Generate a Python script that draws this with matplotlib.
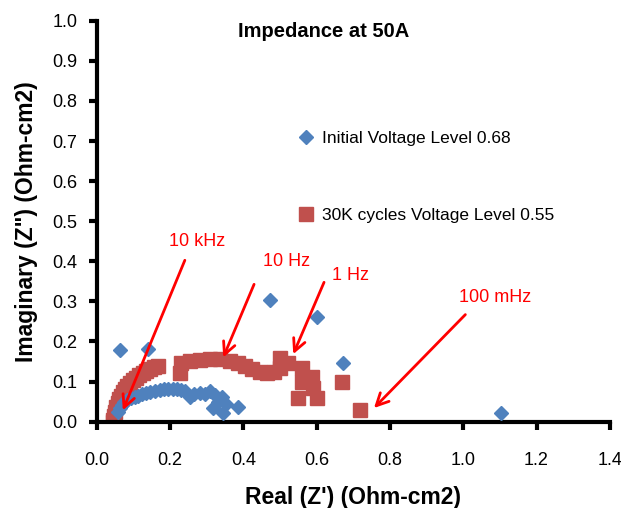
import matplotlib
matplotlib.use("Agg")
import matplotlib.pyplot as plt
from matplotlib.lines import Line2D

# Data
init_x = [0.057, 0.062, 0.068, 0.075, 0.082, 0.092, 0.104, 0.113, 0.123, 0.134, 0.145, 0.158, 0.172, 0.183,
          0.194, 0.207, 0.219, 0.230, 0.240, 0.254, 0.265, 0.281, 0.295, 0.309, 0.322, 0.317, 0.330, 0.342,
          0.352, 0.344, 0.385,
          0.063, 0.139, 0.473, 0.601, 0.672, 1.104]
init_y = [0.024, 0.034, 0.042, 0.049, 0.054, 0.058, 0.062, 0.065, 0.068, 0.071, 0.074, 0.077, 0.080, 0.081,
          0.082, 0.082, 0.081, 0.079, 0.077, 0.062, 0.068, 0.072, 0.070, 0.077, 0.067, 0.034, 0.049, 0.062,
          0.044, 0.022, 0.037,
          0.179, 0.182, 0.304, 0.262, 0.147, 0.022]

aged_x = [0.044, 0.045, 0.046, 0.049, 0.052, 0.057, 0.061, 0.066, 0.071, 0.077, 0.083, 0.090, 0.098, 0.107,
          0.116, 0.126, 0.135, 0.145, 0.156, 0.167,
          0.227, 0.230, 0.254, 0.281, 0.309, 0.336, 0.363, 0.385, 0.404, 0.423, 0.445, 0.464, 0.484,
          0.500, 0.500, 0.522, 0.560, 0.560, 0.587, 0.590, 0.549, 0.601, 0.669, 0.719]
aged_y = [0.000, 0.004, 0.014, 0.024, 0.036, 0.047, 0.056, 0.064, 0.073, 0.082, 0.090, 0.097, 0.103, 0.109,
          0.116, 0.122, 0.127, 0.132, 0.136, 0.140,
          0.122, 0.147, 0.152, 0.154, 0.157, 0.157, 0.152, 0.147, 0.139, 0.132, 0.124, 0.122, 0.124,
          0.134, 0.159, 0.147, 0.134, 0.099, 0.112, 0.084, 0.059, 0.059, 0.099, 0.029]

series_labels = ["Initial Voltage Level 0.68", "30K cycles Voltage Level 0.55"]
x_ticks = [0.0, 0.2, 0.4, 0.6, 0.8, 1.0, 1.2, 1.4]
y_ticks = [0.0, 0.1, 0.2, 0.3, 0.4, 0.5, 0.6, 0.7, 0.8, 0.9, 1.0]

annotations = [
    ("10 kHz", (0.273, 0.449), (0.243, 0.409), (0.068, 0.022)),
    ("10 Hz", (0.519, 0.399), (0.432, 0.349), (0.342, 0.154)),
    ("1 Hz", (0.691, 0.364), (0.623, 0.354), (0.533, 0.162)),
    ("100 mHz", (1.087, 0.309), (1.011, 0.272), (0.751, 0.029)),
]

BLUE = "#4F81BD"
RED = "#C0504D"

plt.rcParams['font.family'] = ['Liberation Sans', 'DejaVu Sans']

fig = plt.figure(figsize=(6.21, 5.08), dpi=100)
ax = fig.add_axes([0.156, 0.170, 0.826, 0.789])

ax.plot(aged_x, aged_y, linestyle='none', marker='s', markersize=10, color=RED, zorder=2)
ax.plot(init_x, init_y, linestyle='none', marker='D', markersize=7, color=BLUE, zorder=3)

ax.set_xlim(0, 1.4)
ax.set_ylim(0, 1.0)
ax.set_xticks(x_ticks)
ax.set_yticks(y_ticks)
ax.set_xticklabels([f"{v:.1f}" for v in x_ticks])
ax.set_yticklabels([f"{v:.1f}" for v in y_ticks])
for lab in ax.get_xticklabels() + ax.get_yticklabels():
    lab.set_fontsize(13)
ax.tick_params(direction='out', length=6, width=3, color='black', pad=8)
ax.tick_params(axis='x', pad=16)
for side in ['top', 'right']:
    ax.spines[side].set_visible(False)
for side in ['left', 'bottom']:
    ax.spines[side].set_linewidth(3)

ax.set_xlabel("Real (Z') (Ohm-cm2)", fontsize=16.5, fontweight='bold', labelpad=12)
ax.set_ylabel('Imaginary (Z") (Ohm-cm2)', fontsize=16.5, fontweight='bold', labelpad=10)

ax.text(0.443, 0.974, "Impedance at 50A", transform=ax.transAxes, ha='center', va='center',
        fontsize=14.5, fontweight='bold')

handles = [Line2D([], [], linestyle='none', marker='D', markersize=7, color=BLUE),
           Line2D([], [], linestyle='none', marker='s', markersize=10, color=RED)]
ax.legend(handles, series_labels, loc='upper left', bbox_to_anchor=(0.357, 0.765), frameon=False,
          labelspacing=3.6, handletextpad=0.3, handlelength=1.2, prop={'size': 12.5})

for text, tpos, start, end in annotations:
    ax.text(tpos[0], tpos[1], text, color='red', fontsize=13, ha='center', va='center')
    ax.annotate("", xy=end, xytext=start,
                arrowprops=dict(arrowstyle='->', color='red', lw=2, mutation_scale=22))

fig.savefig("out.png", dpi=100)
